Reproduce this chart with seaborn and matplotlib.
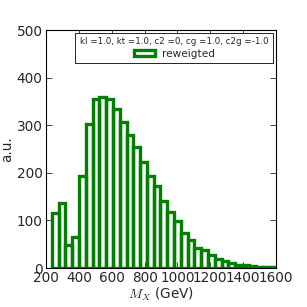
import numpy as np
import pandas as pd
import seaborn as sns
import matplotlib
matplotlib.use('Agg')
import matplotlib.pyplot as plt
from matplotlib.patches import Patch

# histogram contents (33 bins, ~235 .. 1600 GeV)
bin_lo   = 235
bin_hi   = 1600
counts   = [115, 136, 49, 66, 194, 302, 355, 360, 355, 334, 306,
            280, 255, 222, 194, 173, 141, 117, 98, 73, 59, 43,
            37, 27, 19, 14, 10, 7, 6, 4, 3, 2, 3]
coupling = 'kl =1.0, kt =1.0, c2 =0, cg =1.0, c2g =-1.0'
label    = 'reweigted'

edges   = np.linspace(bin_lo, bin_hi, len(counts) + 1)
centers = 0.5 * (edges[:-1] + edges[1:])
df = pd.DataFrame({'mx': centers, 'w': counts})

sns.set_style('ticks', {'xtick.direction': 'in', 'ytick.direction': 'in'})
plt.rcParams['font.family'] = ['DejaVu Sans']
plt.rcParams['mathtext.fontset'] = 'cm'

fig = plt.figure(figsize=[3.07, 3.07], dpi=100)
ax = fig.add_axes([0.15, 0.127, 0.749, 0.775])
sns.histplot(data=df, x='mx', weights='w', bins=list(edges), fill=False,
             color='green', linewidth=2.4, ax=ax)

ax.set_xlim(200, 1600)
ax.set_ylim(0, 500)
ax.set_xticks(range(200, 1601, 200))
ax.set_yticks(range(0, 501, 100))
ax.tick_params(top=True, right=True, direction='in', length=4, width=0.6,
               labelsize=9.8, pad=2.5)
for s in ax.spines.values():
    s.set_linewidth(0.8)
    s.set_color('black')
ax.set_xlabel(r'$M_X$ (GeV)', fontsize=9.8, labelpad=0)
ax.set_ylabel('a.u.', fontsize=9.8, labelpad=2)

handle = Patch(facecolor='white', edgecolor='green', linewidth=2.4, label=label)
leg = ax.legend(handles=[handle], title=coupling, loc='upper right',
                fontsize=7.6, title_fontsize=6.3, fancybox=False, framealpha=1,
                borderaxespad=0.25, borderpad=0.45, handlelength=2.0,
                handleheight=0.6, labelspacing=0.2, handletextpad=0.6)
leg.get_frame().set_edgecolor('black')
leg.get_frame().set_linewidth(0.6)

plt.savefig('out.png', dpi=100)
